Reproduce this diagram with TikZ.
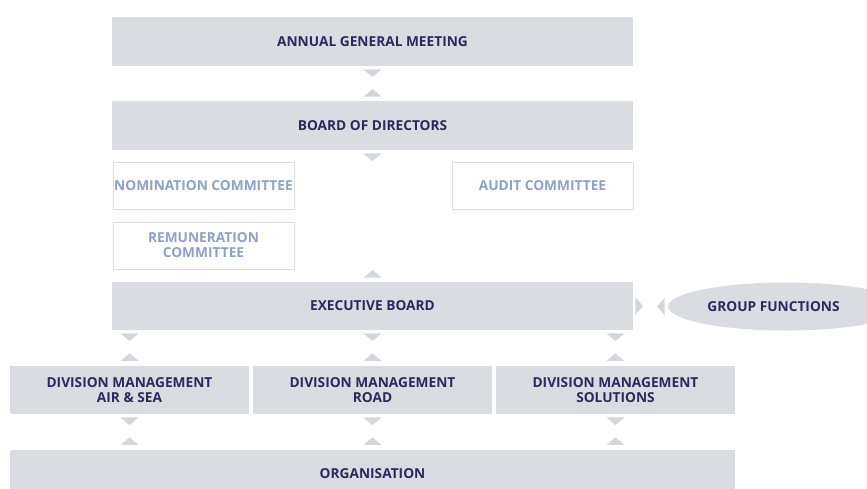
\documentclass[tikz,border=0pt]{standalone}
\usepackage{fontspec}
\setmainfont{Open Sans}
\usepackage{xcolor}
\definecolor{govbox}{HTML}{D9DCE0}
\definecolor{govtri}{HTML}{D3D6DB}
\definecolor{govtext}{HTML}{2B2A5E}
\definecolor{govsoft}{HTML}{8DA0CB}
\definecolor{govline}{HTML}{DADDE1}
\usetikzlibrary{shapes.geometric}
\tikzset{
  govfont/.style={font=\fontsize{9.75}{10.6}\selectfont\bfseries},
  mainbox/.style={
    fill=govbox, draw=none, govfont, text=govtext,
    minimum width=13.025cm, minimum height=1.225cm,
    align=center, inner sep=0pt
  },
  divbox/.style={
    fill=govbox, draw=none, govfont, text=govtext,
    minimum width=5.975cm, minimum height=1.2cm,
    align=center, inner sep=0pt
  },
  combox/.style={
    fill=white, draw=govline, line width=0.5pt, govfont, text=govsoft,
    minimum width=4.525cm, minimum height=1.175cm,
    align=center, inner sep=0pt
  },
  funcell/.style={
    ellipse, fill=govbox, draw=none, govfont, text=govtext,
    minimum width=5.9cm, minimum height=1.2cm, inner sep=0pt
  },
  tdown/.pic={\fill[govtri] (-0.225,0) -- (0.225,0) -- (0,-0.19) -- cycle;},
  tup/.pic={\fill[govtri] (-0.225,0) -- (0.225,0) -- (0,0.19) -- cycle;},
  tright/.pic={\fill[govtri] (0,-0.225) -- (0,0.225) -- (0.19,0) -- cycle;},
  tleft/.pic={\fill[govtri] (0,-0.225) -- (0,0.225) -- (-0.19,0) -- cycle;}
}

\begin{document}
\begin{tikzpicture}
  \useasboundingbox (0,0) rectangle (21.675,-12.2);
  \begin{scope}
  \clip (0,0) rectangle (21.675,-12.2);

  \node[mainbox] (agm)  at (9.3125,-1.0375) {ANNUAL GENERAL MEETING};
  \node[mainbox] (bod)  at (9.3125,-3.1375) {BOARD OF DIRECTORS};
  \node[combox]  (nom)  at (5.0875,-4.6375) {NOMINATION COMMITTEE};
  \node[combox]  (aud)  at (13.5625,-4.6375){AUDIT COMMITTEE};
  \node[combox]  (rem)  at (5.0875,-6.1375) {REMUNERATION\\COMMITTEE};
  \node[mainbox, minimum height=1.2cm] (exec) at (9.3125,-7.65) {EXECUTIVE BOARD};
  \node[funcell] (grp)  at (19.65,-7.6625)  {GROUP FUNCTIONS\hspace*{0.625cm}};

  \node[divbox] (div1) at (3.2375,-9.75)  {DIVISION MANAGEMENT\\AIR \& SEA};
  \node[divbox] (div2) at (9.3125,-9.75)  {DIVISION MANAGEMENT\\ROAD};
  \node[divbox] (div3) at (15.3875,-9.75) {DIVISION MANAGEMENT\\SOLUTIONS};
  \node[divbox, minimum width=18.125cm] (org) at (9.3125,-11.85) {ORGANISATION};

  % markers between the levels
  \path (agm.south)  ++(0,-0.08) pic{tdown};
  \path (bod.north)  ++(0,0.1)   pic{tup};
  \path (bod.south)  ++(0,-0.08) pic{tdown};
  \path (exec.north) ++(0,0.1)   pic{tup};
  \path (exec.east)  ++(0.05,0)  pic{tright};
  \path (grp.west)   ++(-0.075,0) pic{tleft};

  \foreach \d in {div1,div2,div3} {
    \path (exec.south -| \d) ++(0,-0.08) pic{tdown};
    \path (\d.north)         ++(0,0.12)  pic{tup};
    \path (\d.south)         ++(0,-0.08) pic{tdown};
    \path (org.north -| \d)  ++(0,0.12)  pic{tup};
  }
  \end{scope}
\end{tikzpicture}
\end{document}
